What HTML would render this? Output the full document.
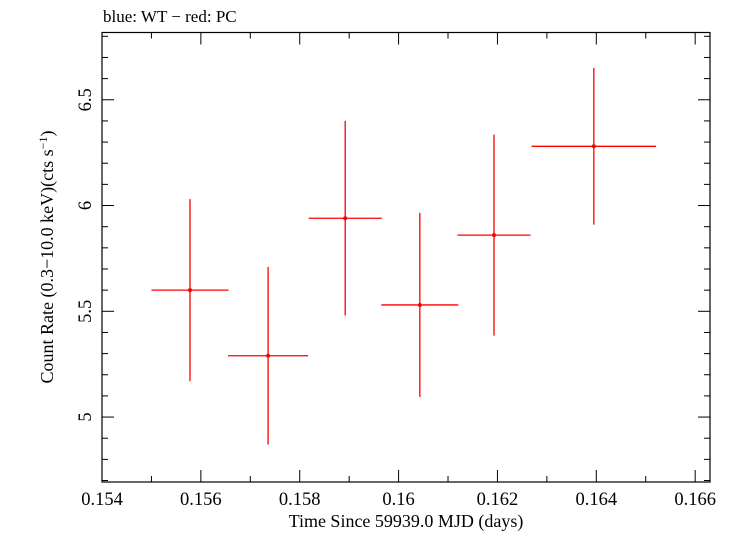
<!DOCTYPE html>
<html><head><meta charset="utf-8"><style>
body{margin:0;background:#fff;}
svg text{font-family:"Liberation Serif",serif;fill:#000;}
</style></head><body>
<svg id="chart" width="730" height="532" xmlns="http://www.w3.org/2000/svg">
<text x="103" y="22" font-size="17">blue: WT − red: PC</text>
<rect x="102" y="32.5" width="608" height="449.5" fill="none" stroke="#000" stroke-width="1.2"/>
<g id="axes"></g>
<g id="marks"></g>
<text x="406" y="527" font-size="18" text-anchor="middle">Time Since 59939.0 MJD (days)</text>
<text transform="translate(53,257) rotate(-90)" font-size="18" text-anchor="middle">Count Rate (0.3−10.0 keV)(cts s<tspan font-size="12" dy="-6">−1</tspan><tspan dy="6">)</tspan></text>
</svg>
<script>
const times=[0.15578,0.15736,0.15892,0.16043,0.16193,0.16395];
const timeErr=[0.00078,0.00081,0.00074,0.00078,0.00074,0.00126];
const rates=[5.60,5.29,5.94,5.53,5.86,6.28];
const rateErr=[0.43,0.42,0.46,0.435,0.475,0.37];
const xTicks=[0.154,0.156,0.158,0.160,0.162,0.164,0.166];
const xTickLabels=["0.154","0.156","0.158","0.16","0.162","0.164","0.166"];
const yTicks=[5,5.5,6,6.5];
const yTickLabels=["5","5.5","6","6.5"];
const X0=102,X1=710,Y0=482,Y1=32.5,xmin=0.154,xmax=0.1663,ymin=4.693,ymax=6.818;
const sx=v=>X0+(v-xmin)/(xmax-xmin)*(X1-X0);
const sy=v=>Y0-(v-ymin)/(ymax-ymin)*(Y0-Y1);
const NS="http://www.w3.org/2000/svg";
const axes=document.getElementById('axes'),marks=document.getElementById('marks');
function mk(tag,attrs,parent){const e=document.createElementNS(NS,tag);for(const k in attrs)e.setAttribute(k,attrs[k]);parent.appendChild(e);return e;}
for(let v=0.154;v<=0.1663;v+=0.001){const major=Math.abs(Math.round(v*1000)%2)===0;const x=sx(v);const L=major?12:6;
const t1=mk('line',{x1:x,x2:x,y1:Y0,y2:Y0-L,stroke:'#000','stroke-width':1},axes);


const t2=mk('line',{x1:x,x2:x,y1:Y1,y2:Y1+L,stroke:'#000','stroke-width':1},axes);

}
xTicks.forEach((v,i)=>{const t=mk('text',{x:sx(v),y:505,'font-size':18.5,'text-anchor':'middle'},axes);t.textContent=xTickLabels[i];

});
for(let k=47;k<=68;k++){const v=k/10;const major=k%5===0;const y=sy(v);const L=major?12:6;
const t1=mk('line',{x1:X0,x2:X0+L,y1:y,y2:y,stroke:'#000','stroke-width':1},axes);


const t2=mk('line',{x1:X1,x2:X1-L,y1:y,y2:y,stroke:'#000','stroke-width':1},axes);

}
yTicks.forEach((v,i)=>{const y=sy(v);const t=mk('text',{transform:`translate(91,${y}) rotate(-90)`,'font-size':18.5,'text-anchor':'middle'},axes);t.textContent=yTickLabels[i];

});
times.forEach((t,i)=>{const g=mk('g',{},marks);


mk('line',{x1:sx(t-timeErr[i]),x2:sx(t+timeErr[i]),y1:sy(rates[i]),y2:sy(rates[i]),stroke:'#f00','stroke-width':1.3},g);
mk('line',{x1:sx(t),x2:sx(t),y1:sy(rates[i]-rateErr[i]),y2:sy(rates[i]+rateErr[i]),stroke:'#f00','stroke-width':1.3},g);
mk('circle',{cx:sx(t),cy:sy(rates[i]),r:2,fill:'#f00'},g);});
</script>
</body></html>
